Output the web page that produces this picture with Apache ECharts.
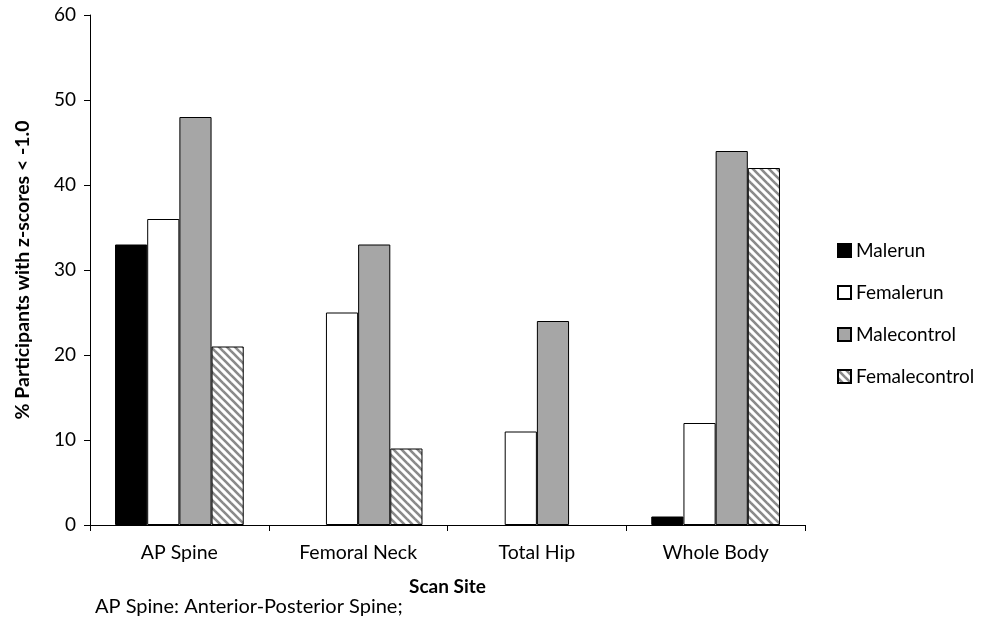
<!DOCTYPE html>
<html><head><meta charset="utf-8">
<script src="https://cdn.jsdelivr.net/npm/echarts@6/dist/echarts.min.js"></script>
<style>html,body{margin:0;padding:0;background:#fff}#c{width:987px;height:631px}</style>
</head><body><div id="c"></div>
<script>
const categories = ['AP Spine', 'Femoral Neck', 'Total Hip', 'Whole Body'];
const seriesNames = ['Malerun', 'Femalerun', 'Malecontrol', 'Femalecontrol'];
const malerun = [33, 0, 0, 1];
const femalerun = [36, 25, 11, 12];
const malecontrol = [48, 33, 24, 44];
const femalecontrol = [21, 9, 0, 42];
const yTicks = [0, 10, 20, 30, 40, 50, 60];

function hatch() {
  const c = document.createElement('canvas');
  c.width = 8; c.height = 8;
  const g = c.getContext('2d');
  g.fillStyle = '#fff'; g.fillRect(0, 0, 8, 8);
  g.strokeStyle = '#8a8a8a'; g.lineWidth = 2.6;
  for (let k = -1; k <= 1; k++) {
    g.beginPath(); g.moveTo(k * 8 - 1, -1); g.lineTo(k * 8 + 9, 9); g.stroke();
  }
  return { image: c, repeat: 'repeat' };
}
const fills = ['#000000', '#ffffff', '#a6a6a6', hatch()];
const data = [malerun, femalerun, malecontrol, femalecontrol];
const font = 'Lato, Carlito, "Open Sans", sans-serif';

const chart = echarts.init(document.getElementById('c'));
chart.setOption({
  animation: false,
  grid: { left: 90, right: 182, top: 15, bottom: 106 },
  legend: {
    orient: 'vertical', left: 832, top: 236, itemGap: 23,
    itemWidth: 13, itemHeight: 13,
    textStyle: { fontFamily: font, fontSize: 19, color: '#000' },
    data: seriesNames.map(n => ({ name: n, icon: 'rect' }))
  },
  xAxis: {
    type: 'category', data: categories,
    name: 'Scan Site', nameLocation: 'middle', nameGap: 52,
    nameTextStyle: { fontFamily: font, fontSize: 19, fontWeight: 'bold', color: '#000' },
    axisLine: { lineStyle: { color: '#000', width: 1 } },
    axisTick: { show: true, length: 6, lineStyle: { color: '#000' } },
    axisLabel: { fontFamily: font, fontSize: 19.5, color: '#000', margin: 18 }
  },
  yAxis: {
    type: 'value', min: 0, max: 60, interval: 10,
    name: '% Participants with z-scores < -1.0', nameLocation: 'middle', nameGap: 57,
    nameTextStyle: { fontFamily: font, fontSize: 19.5, fontWeight: 'bold', color: '#000' },
    axisLine: { show: true, lineStyle: { color: '#000', width: 1 } },
    axisTick: { show: true, length: 6, lineStyle: { color: '#000' } },
    splitLine: { show: false },
    axisLabel: { fontFamily: font, fontSize: 19, color: '#000', margin: 14,
      formatter: v => yTicks.includes(v) ? String(v) : '' }
  },
  series: seriesNames.map((n, i) => ({
    name: n, type: 'bar', data: data[i].map(v => v === 0 ? '-' : v),
    barGap: '0%', barCategoryGap: '28%',
    itemStyle: { color: fills[i], borderColor: '#000', borderWidth: 1 }
  })),
  graphic: [{
    type: 'text', left: 95, top: 597,
    style: { text: 'AP Spine: Anterior-Posterior Spine;', font: '20px ' + font, fill: '#000' }
  }]
});
</script></body></html>
